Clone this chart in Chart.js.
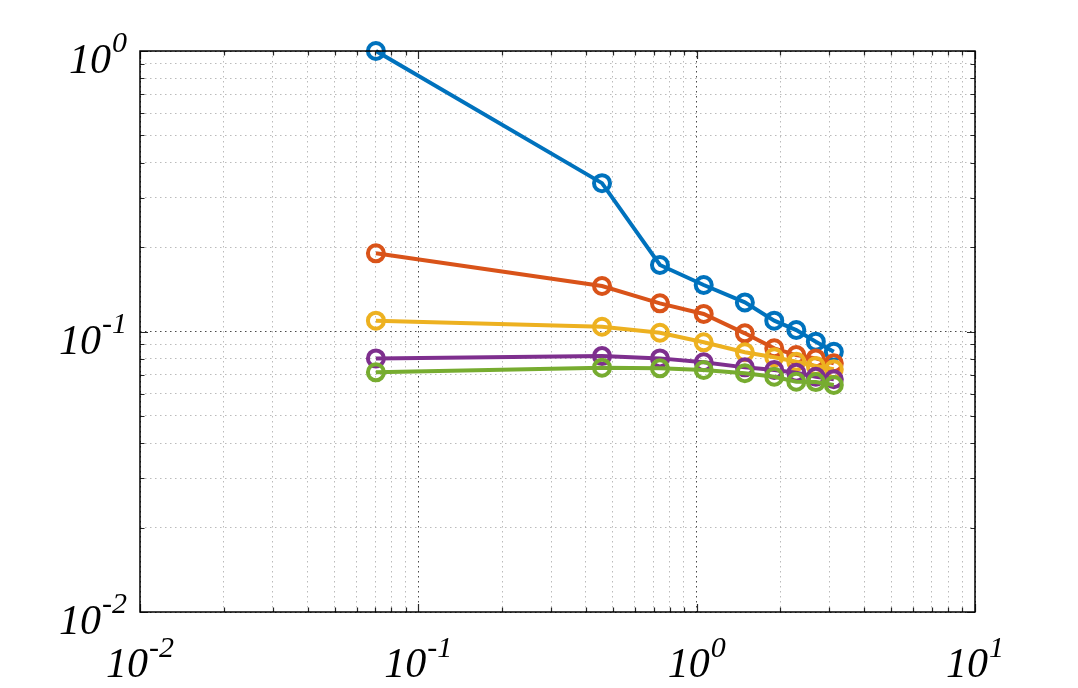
<!DOCTYPE html>
<html><head><meta charset="utf-8">
<script src="https://cdn.jsdelivr.net/npm/chart.js@4"></script>
<style>html,body{margin:0;padding:0;background:#fff}#wrap{width:1078px;height:688px}</style>
</head><body><div id="wrap"><canvas id="c" width="1078" height="688"></canvas></div>
<script>
// ---- data ----
const xValues    = [0.0704, 0.457, 0.738, 1.06, 1.49, 1.90, 2.28, 2.68, 3.11];
const seriesBlue   = [1.0, 0.338, 0.1726, 0.1465, 0.127, 0.1093, 0.1012, 0.092, 0.0847];
const seriesOrange = [0.190, 0.1453, 0.126, 0.1155, 0.0985, 0.0871, 0.0824, 0.0802, 0.077];
const seriesYellow = [0.1093, 0.104, 0.099, 0.0915, 0.0843, 0.0809, 0.078, 0.0753, 0.0733];
const seriesPurple = [0.0802, 0.0817, 0.0802, 0.0777, 0.0745, 0.0729, 0.0713, 0.069, 0.0676];
const seriesGreen  = [0.0715, 0.0743, 0.0739, 0.0729, 0.071, 0.069, 0.0662, 0.066, 0.0645];
const xTickExps = [-2, -1, 0, 1];
const yTickExps = [-2, -1, 0];

const colors = ['#0072BD', '#D95319', '#EDB120', '#7E2F8E', '#77AC30'];
const allSeries = [seriesBlue, seriesOrange, seriesYellow, seriesPurple, seriesGreen];

function mkTicks(eMin, eMax) {
  const t = [];
  for (let e = eMin; e < eMax; e++) for (let m = 1; m <= 9; m++) t.push({value: m * Math.pow(10, e)});
  t.push({value: Math.pow(10, eMax)});
  return t;
}
function isMajor(v) { const l = Math.log10(v); return Math.abs(l - Math.round(l)) < 1e-9; }

const datasets = allSeries.map((s, i) => ({
  data: s.map((y, j) => ({x: xValues[j], y: y})),
  borderColor: colors[i],
  backgroundColor: colors[i],
  pointBorderColor: colors[i],
  pointBackgroundColor: 'rgba(0,0,0,0)',
  borderWidth: 4,
  pointRadius: 8,
  pointBorderWidth: 4,
  tension: 0,
  clip: false,
  order: allSeries.length - i
}));

function gridOpts() {
  return {
    drawTicks: false,
    lineWidth: 1,
    color: (c) => (c.tick && isMajor(c.tick.value)) ? 'rgba(30,30,30,0.8)' : 'rgba(120,120,120,0.5)'
  };
}

const boxPlugin = {
  id: 'boxPlugin',
  afterDraw(chart) {
    const ctx = chart.ctx, a = chart.chartArea;
    const xs = chart.scales.x, ys = chart.scales.y;
    ctx.save();
    ctx.strokeStyle = '#262626';
    ctx.lineWidth = 1.2;
    ctx.beginPath();
    xs.ticks.forEach(t => {
      const px = Math.round(xs.getPixelForValue(t.value)) + 0.5;
      const L = isMajor(t.value) ? 8 : 4.5;
      ctx.moveTo(px, a.bottom); ctx.lineTo(px, a.bottom - L);
      ctx.moveTo(px, a.top); ctx.lineTo(px, a.top + L);
    });
    ys.ticks.forEach(t => {
      const py = Math.round(ys.getPixelForValue(t.value)) + 0.5;
      const L = isMajor(t.value) ? 8 : 4.5;
      ctx.moveTo(a.left, py); ctx.lineTo(a.left + L, py);
      ctx.moveTo(a.right, py); ctx.lineTo(a.right - L, py);
    });
    ctx.stroke();
    ctx.strokeStyle = '#000';
    ctx.lineWidth = 1.5;
    ctx.strokeRect(a.left, a.top, a.right - a.left, a.bottom - a.top);

    const baseFont = 'italic 42px "Liberation Serif", "Times New Roman", serif';
    const expFont = 'italic 30px "Liberation Serif", "Times New Roman", serif';
    ctx.fillStyle = '#000';
    ctx.textBaseline = 'alphabetic';
    ctx.textAlign = 'left';
    function measure(e) {
      ctx.font = baseFont; const wb = ctx.measureText('10').width;
      ctx.font = expFont; const we = ctx.measureText(String(e)).width;
      return [wb, we];
    }
    function draw(e, left, baseY, expY, wb) {
      ctx.font = baseFont; ctx.fillText('10', left, baseY);
      ctx.font = expFont; ctx.fillText(String(e), left + wb + 1, expY);
    }
    xTickExps.forEach(e => {
      const px = xs.getPixelForValue(Math.pow(10, e));
      const [wb, we] = measure(e);
      const left = px - (wb + we + 1) / 2;
      draw(e, left, a.bottom + 65, a.bottom + 45, wb);
    });
    yTickExps.forEach(e => {
      const py = ys.getPixelForValue(Math.pow(10, e));
      const [wb, we] = measure(e);
      const right = a.left - 13;
      const left = right - (wb + we + 1);
      draw(e, left, py + 22, py + 1, wb);
    });
    ctx.restore();
  }
};

new Chart(document.getElementById('c'), {
  type: 'line',
  data: { datasets },
  options: {
    responsive: false,
    animation: false,
    events: [],
    layout: { padding: { left: 140, right: 103, top: 51, bottom: 76 } },
    plugins: { legend: { display: false }, tooltip: { enabled: false } },
    elements: { line: { borderWidth: 4 }, point: { borderWidth: 4, radius: 8 } },
    scales: {
      x: {
        type: 'logarithmic', min: 0.01, max: 10,
        afterBuildTicks: (s) => { s.ticks = mkTicks(-2, 1); },
        ticks: { display: false },
        grid: gridOpts(),
        border: { display: false, dash: [1.5, 3.5] }
      },
      y: {
        type: 'logarithmic', min: 0.01, max: 1,
        afterBuildTicks: (s) => { s.ticks = mkTicks(-2, 0); },
        ticks: { display: false },
        grid: gridOpts(),
        border: { display: false, dash: [1.5, 3.5] }
      }
    }
  },
  plugins: [boxPlugin]
});
</script>
</body></html>
